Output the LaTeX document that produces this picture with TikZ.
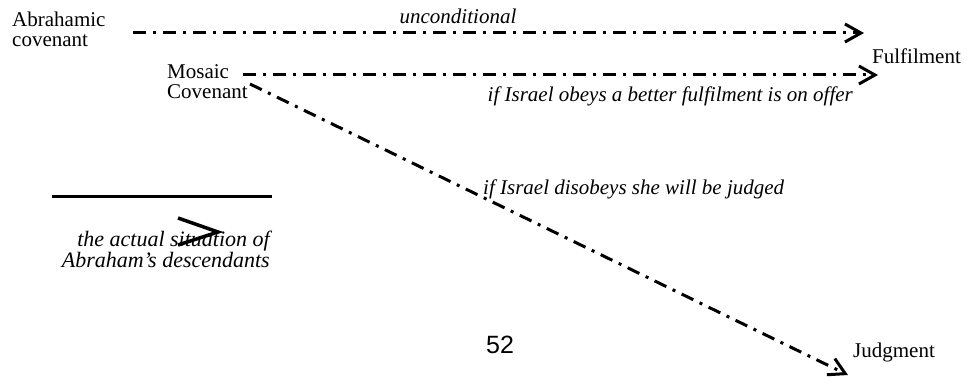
\documentclass[tikz,border=0pt]{standalone}
\usepackage{fontspec}
\setmainfont{Liberation Serif}
\newfontfamily\pagenumfont{Liberation Sans}
\usetikzlibrary{arrows.meta, positioning}

\begin{document}
\begin{tikzpicture}[x=1pt, y=-1pt,
  every node/.style={font=\fontsize{21}{20}\selectfont, inner sep=0pt},
  covlabel/.style={font=\fontsize{21}{20}\selectfont\itshape},
  covline/.style={line width=3pt, dash pattern=on 13pt off 7pt on 3pt off 7pt,
    -{Straight Barb[length=16pt, width=18pt, line width=3pt]}}]
  \useasboundingbox (0,0) rectangle (967,377);

  % Covenants
  \node[anchor=north west, align=left] (abr) at (12,12) {Abrahamic\\covenant};
  \node[anchor=north west, align=left] (mos) at (167,64) {Mosaic\\Covenant};

  % Outcomes
  \node[anchor=west] (ful) at (872,56) {Fulfilment};
  \node[anchor=west] (jud) at (853,352) {Judgment};

  % Connectors
  \coordinate (abrStart) at (133,33);
  \coordinate (abrTip) at (864,33);
  \coordinate (mosStart) at (243,75);
  \coordinate (mosTip) at (878,75);
  \coordinate (judStart) at (250,84);
  \coordinate (judTip) at (848,375);
  \draw[covline] (abrStart) -- (abrTip);
  \draw[covline] (mosStart) -- (mosTip);
  \draw[covline] (judStart) -- (judTip);

  % Labels
  \node[covlabel] (uncond) at (458,16) {unconditional};
  \node[covlabel, anchor=east] (obeys) at (853,96) {if Israel obeys a better fulfilment is on offer};
  \node[covlabel, anchor=west] (disobeys) at (483,189) {if Israel disobeys she will be judged};

  % Legend
  \coordinate (legA) at (52,197);
  \coordinate (legB) at (272,197);
  \draw[line width=3pt] (legA) -- (legB);
  \node[covlabel, font=\fontsize{22}{21}\selectfont\itshape, align=right, anchor=north east] (legtext) at (270,231) {the actual situation of\\Abraham's descendants};
  \draw[line width=3.5pt] (178,218) -- (218,232) -- (178,245);

  % Page number
  \node[font=\pagenumfont\fontsize{25}{25}\selectfont] (pnum) at (500,345) {52};
\end{tikzpicture}
\end{document}
